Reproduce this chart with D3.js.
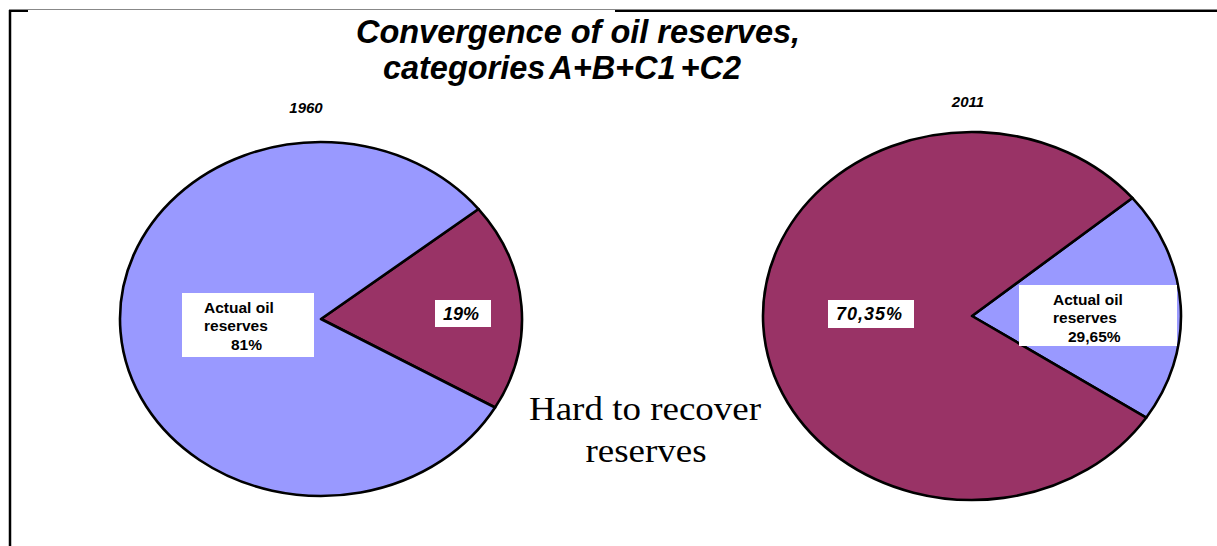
<!DOCTYPE html>
<html>
<head>
<meta charset="utf-8">
<script src="https://cdn.jsdelivr.net/npm/d3@7"></script>
<style>
  body { margin: 0; background: #fff; }
  svg { display: block; }
</style>
</head>
<body>
<div id="chart"></div>
<script>
// Data
const years = ["1960", "2011"];
const categories = ["Actual oil reserves", "Hard to recover reserves"];
// slice shares as drawn in the picture (the 2011 slice is drawn smaller than its label says)
const actualShare = [81, 20.4];
const hardShare = [19, 79.6];
const actualLabels = ["81%", "29,65%"];
const hardLabels = ["19%", "70,35%"];

const W = 1217, H = 546;

const svg = d3.select("#chart")
    .append("svg")
    .attr("width", W)
    .attr("height", H);

// Frame lines
svg.append("line")
    .attr("x1", 9).attr("x2", W).attr("y1", 9.5).attr("y2", 9.5)
    .style("stroke", "#888").style("stroke-width", 1);
svg.append("line")
    .attr("x1", 9).attr("x2", 28).attr("y1", 11).attr("y2", 11)
    .style("stroke", "#000").style("stroke-width", 2);
svg.append("line")
    .attr("x1", 615).attr("x2", W).attr("y1", 11).attr("y2", 11)
    .style("stroke", "#000").style("stroke-width", 2);
svg.append("line")
    .attr("x1", 10).attr("x2", 10).attr("y1", 10).attr("y2", H)
    .style("stroke", "#000").style("stroke-width", 2.5);

// Title (glyphs in the picture are a bit taller than plain Arial)
function stretchedText(x, y, sy, txt) {
    return svg.append("g")
        .attr("transform", `translate(${x},${y}) scale(1,${sy})`)
        .append("text")
        .attr("text-anchor", "middle")
        .text(txt);
}

stretchedText(578, 43, 1.04, "Convergence of oil reserves,")
    .style("font-family", "'Liberation Sans', Arial, sans-serif")
    .style("font-size", "32.5px")
    .style("font-weight", "bold")
    .style("font-style", "italic");
stretchedText(562, 79, 1.04, "categories A+B+C1 +C2")
    .style("font-family", "'Liberation Sans', Arial, sans-serif")
    .style("font-size", "32.5px")
    .style("font-weight", "bold")
    .style("font-style", "italic")
    .style("word-spacing", "-4px");

const color = d3.scaleOrdinal()
    .domain(categories)
    .range(["#9999FF", "#993366"]);

// Pie layouts, one per year
const pies = [
    { cx: 321, cy: 319, rx: 201, ry: 177, start: 51.6, yearX: 306, yearY: 113,
      order: [1, 0] },
    { cx: 972, cy: 316, rx: 209, ry: 184, start: 50.1, yearX: 968, yearY: 107,
      order: [0, 1] }
];

pies.forEach((p, i) => {
    const values = [
        { cat: categories[0], value: actualShare[i] },
        { cat: categories[1], value: hardShare[i] }
    ];
    const ordered = p.order.map(k => values[k]);

    const pie = d3.pie()
        .sort(null)
        .value(d => d.value)
        .startAngle(p.start * Math.PI / 180)
        .endAngle(p.start * Math.PI / 180 + 2 * Math.PI);

    const arc = d3.arc().innerRadius(0).outerRadius(p.rx);

    const g = svg.append("g")
        .attr("transform", `translate(${p.cx},${p.cy}) scale(1,${p.ry / p.rx})`);

    g.selectAll("path")
        .data(pie(ordered))
        .join("path")
        .attr("d", arc)
        .style("fill", d => color(d.data.cat))
        .style("stroke", "#000")
        .style("stroke-width", 2.6)
        .style("stroke-linejoin", "round")
        .attr("vector-effect", "non-scaling-stroke");

    // year label
    svg.append("text")
        .attr("x", p.yearX)
        .attr("y", p.yearY)
        .attr("text-anchor", "middle")
        .style("font-family", "'Liberation Sans', Arial, sans-serif")
        .style("font-size", "15px")
        .style("font-weight", "bold")
        .style("font-style", "italic")
        .text(years[i]);
});

// Label boxes
const boxFont = "'Liberation Sans', Arial, sans-serif";

function actualBox(x, y, w, h, tx, ty, pctX, pct) {
    svg.append("rect").attr("x", x).attr("y", y).attr("width", w).attr("height", h)
        .style("fill", "#fff");
    const t = svg.append("text")
        .style("font-family", boxFont)
        .style("font-size", "15.5px")
        .style("font-weight", "bold");
    t.append("tspan").attr("x", tx).attr("y", ty).text("Actual oil");
    t.append("tspan").attr("x", tx).attr("y", ty + 18).text("reserves");
    t.append("tspan").attr("x", pctX).attr("y", ty + 36.5).text(pct);
}

function hardBox(x, y, w, h, tx, ty, label, spacing) {
    svg.append("rect").attr("x", x).attr("y", y).attr("width", w).attr("height", h)
        .style("fill", "#fff");
    svg.append("text")
        .attr("x", tx).attr("y", ty)
        .style("font-family", boxFont)
        .style("font-size", "18px")
        .style("font-weight", "bold")
        .style("font-style", "italic")
        .style("letter-spacing", spacing)
        .text(label);
}

actualBox(182, 293, 132, 64, 204, 313, 231, actualLabels[0]);
hardBox(435, 300, 56, 27, 443, 320, hardLabels[0], "0px");
actualBox(1019, 285, 158, 61, 1053, 305, 1068, actualLabels[1]);
hardBox(828, 300, 86, 28, 836, 320, hardLabels[1], "1px");

// Hard to recover reserves annotation (glyphs wider than tall in the picture)
stretchedText(645, 420, 0.9, "Hard to recover")
    .style("font-family", "'Liberation Serif', 'Times New Roman', serif")
    .style("font-size", "37px");
stretchedText(646, 462, 0.9, "reserves")
    .style("font-family", "'Liberation Serif', 'Times New Roman', serif")
    .style("font-size", "37px");
</script>
</body>
</html>
